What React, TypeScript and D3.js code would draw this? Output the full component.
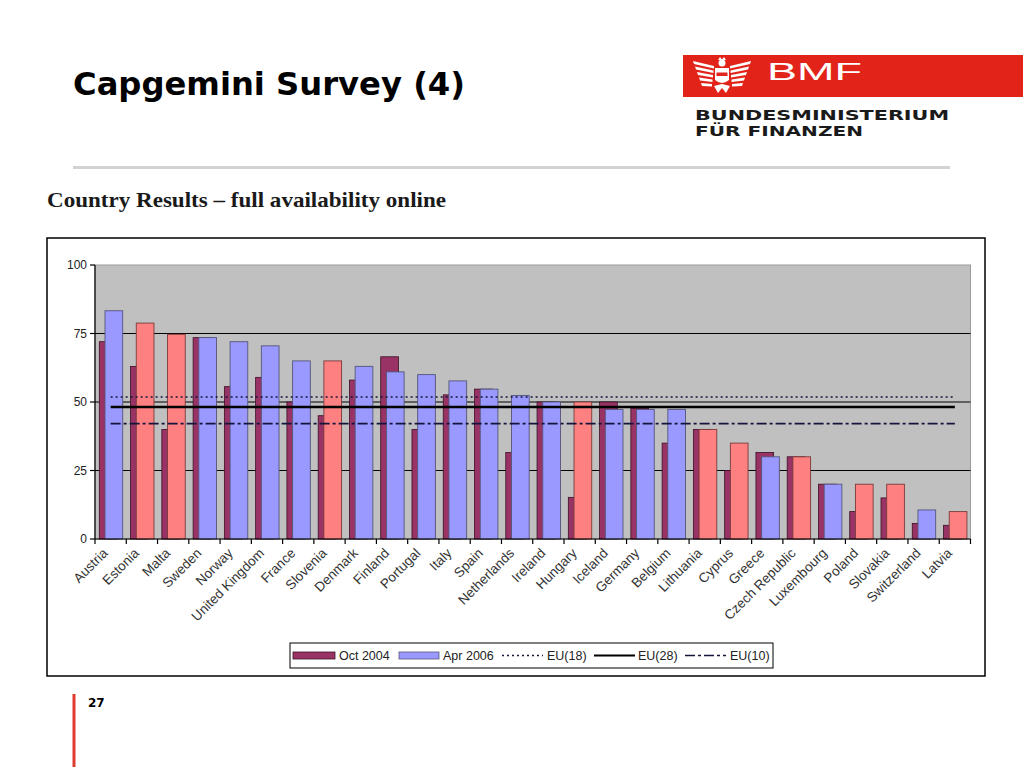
import { useMemo } from "react";
import { scaleBand, scaleLinear, line } from "d3";

const countries = [
  "Austria", "Estonia", "Malta", "Sweden", "Norway", "United Kingdom", "France",
  "Slovenia", "Denmark", "Finland", "Portugal", "Italy", "Spain", "Netherlands",
  "Ireland", "Hungary", "Iceland", "Germany", "Belgium", "Lithuania", "Cyprus",
  "Greece", "Czech Republic", "Luxembourg", "Poland", "Slovakia", "Switzerland", "Latvia",
];

const oct2004 = [
  72, 63, 40, 73.5, 55.6, 59, 50, 45, 58, 66.5, 40, 52.6, 54.7, 31.6,
  50, 15.2, 50, 47.7, 35, 40, 25, 31.6, 30, 20, 10, 15, 5.7, 5,
];

const apr2006 = [
  83.3, 78.8, 74.7, 73.5, 72, 70.5, 65, 65, 63, 61, 60, 57.7, 54.7, 52.4,
  50, 50, 47.3, 47.3, 47.3, 40, 35, 30, 30, 20, 20, 20, 10.6, 10,
];

// new member states drawn in red instead of blue
const newMembers = [
  "Estonia", "Malta", "Slovenia", "Hungary", "Lithuania", "Cyprus",
  "Czech Republic", "Poland", "Slovakia", "Latvia",
];

const benchmarkNames = ["EU(18)", "EU(28)", "EU(10)"];
const benchmarkValues = [51.8, 48.2, 42.1];

const yTicks = [0, 25, 50, 75, 100];

const COL_OCT = "#993366";
const COL_APR = "#9999ff";
const COL_NEW = "#ff8080";
const BENCH_STYLE: Record<string, { dash: string; width: number; color: string }> = {
  "EU(18)": { dash: "2,3", width: 1.6, color: "#14143c" },
  "EU(28)": { dash: "", width: 2.6, color: "#000" },
  "EU(10)": { dash: "10,3,3,3", width: 1.6, color: "#14143c" },
};

const PLOT = { left: 95, right: 970.5, top: 265, bottom: 539 };

function Eagle() {
  // rough white emblem on the red band
  const feathers = [0, 1, 2, 3, 4];
  return (
    <g fill="#fff">
      {feathers.map((i) => (
        <g key={i}>
          <path d={`M${714 - i * 0.5} ${66 + i * 4.5} L${693 + i * 2} ${61 + i * 5.5} L${694 + i * 2} ${64 + i * 5.5} L${714 - i * 0.5} ${68.5 + i * 4.5} Z`} />
          <path d={`M${730 + i * 0.5} ${66 + i * 4.5} L${751 - i * 2} ${61 + i * 5.5} L${750 - i * 2} ${64 + i * 5.5} L${730 + i * 0.5} ${68.5 + i * 4.5} Z`} />
        </g>
      ))}
      <path d="M718 60 L720 57 L722 59.5 L724 57 L726 60 Z" />
      <circle cx={722} cy={63} r={3.5} />
      <path d="M715 68 L729 68 L729 80 Q722 86 715 80 Z" />
      <rect x={716.5} y={72.5} width={11} height={3.5} fill="#e2231a" />
      <path d="M714 86 L718 93 L722 88 L726 93 L730 86 L722 84 Z" />
    </g>
  );
}

export default function App() {
  const x = useMemo(
    () => scaleBand<string>().domain(countries).range([PLOT.left, PLOT.right]).padding(0),
    []
  );
  const y = useMemo(
    () => scaleLinear().domain([0, 100]).range([PLOT.bottom, PLOT.top]),
    []
  );
  const bw = x.bandwidth();
  const barW = bw * 0.566;
  const cx = (c: string) => (x(c) ?? 0) + bw / 2;

  const benchLine = line<[number, number]>()
    .x((d) => d[0])
    .y((d) => y(d[1]));

  const font = "Arial, 'Liberation Sans', sans-serif";

  return (
    <svg
      width={1023}
      height={767}
      style={{ position: "absolute", left: 0, top: 0, background: "#fff" }}
    >
      {/* header */}
      <text x={73} y={95} fontFamily="'DejaVu Sans', Verdana, sans-serif" fontWeight="bold" fontSize={32} fill="#000" textLength={392} lengthAdjust="spacingAndGlyphs">
        Capgemini Survey (4)
      </text>
      <rect x={683} y={55} width={340} height={42} fill="#e2231a" />
      <Eagle />
      <text x={767} y={79.5} fontFamily="'Liberation Sans', Arial, sans-serif" fontSize={23} fill="#fff" textLength={95} lengthAdjust="spacingAndGlyphs">
        BMF
      </text>
      <text x={695} y={120} fontFamily="'DejaVu Sans', sans-serif" fontWeight="bold" fontSize={14.5} fill="#1a1a1a" textLength={254} lengthAdjust="spacingAndGlyphs">
        BUNDESMINISTERIUM
      </text>
      <text x={695} y={136} fontFamily="'DejaVu Sans', sans-serif" fontWeight="bold" fontSize={14.5} fill="#1a1a1a" textLength={168} lengthAdjust="spacingAndGlyphs">
        FÜR FINANZEN
      </text>
      <rect x={73} y={166} width={877} height={3} fill="#d2d2d2" />
      <text x={47} y={206.5} fontFamily="'Liberation Serif', 'Times New Roman', serif" fontWeight="bold" fontSize={21} fill="#1a1a1a" textLength={399} lengthAdjust="spacingAndGlyphs">
        Country Results – full availability online
      </text>

      {/* chart frame */}
      <rect x={47} y={238} width={938} height={438} fill="#fff" stroke="#000" strokeWidth={1.5} />
      <rect
        x={PLOT.left}
        y={PLOT.top}
        width={PLOT.right - PLOT.left}
        height={PLOT.bottom - PLOT.top}
        fill="#c0c0c0"
        stroke="#9a9a9a"
        strokeWidth={1}
      />
      {/* gridlines */}
      {yTicks.filter((t) => t > 0 && t < 100).map((t) => (
        <line key={t} x1={PLOT.left} x2={PLOT.right} y1={y(t)} y2={y(t)} stroke="#000" strokeWidth={1.2} />
      ))}

      {/* bars */}
      {countries.map((c, i) => {
        const x0 = x(c) ?? 0;
        const isNew = newMembers.includes(c);
        return (
          <g key={c}>
            <rect
              x={x0 + bw * 0.1375}
              y={y(oct2004[i])}
              width={barW}
              height={y(0) - y(oct2004[i])}
              fill={COL_OCT}
              stroke="#3a1025"
              strokeWidth={0.8}
            />
            <rect
              x={x0 + bw * 0.32}
              y={y(apr2006[i])}
              width={barW}
              height={y(0) - y(apr2006[i])}
              fill={isNew ? COL_NEW : COL_APR}
              stroke={isNew ? "#7a3a3a" : "#55557a"}
              strokeWidth={0.9}
            />
          </g>
        );
      })}

      {/* benchmark lines */}
      {benchmarkNames.map((n, i) => {
        const st = BENCH_STYLE[n];
        const d = benchLine([
          [cx(countries[0]), benchmarkValues[i]],
          [cx(countries[countries.length - 1]), benchmarkValues[i]],
        ]);
        return (
          <path key={n} d={d ?? ""} fill="none" stroke={st.color} strokeWidth={st.width} strokeDasharray={st.dash} />
        );
      })}

      {/* axes */}
      <line x1={PLOT.left} x2={PLOT.left} y1={PLOT.top} y2={PLOT.bottom} stroke="#000" strokeWidth={1.2} />
      <line x1={PLOT.left} x2={PLOT.right} y1={PLOT.bottom} y2={PLOT.bottom} stroke="#000" strokeWidth={1.2} />
      {yTicks.map((t) => (
        <g key={t}>
          <line x1={PLOT.left - 5} x2={PLOT.left} y1={y(t)} y2={y(t)} stroke="#000" strokeWidth={1.2} />
          <text x={87} y={y(t)} dy="0.35em" textAnchor="end" fontFamily={font} fontSize={12} fill="#222">
            {t}
          </text>
        </g>
      ))}
      {[...countries.map((c) => x(c) ?? 0), PLOT.right].map((tx, i) => (
        <line key={i} x1={tx} x2={tx} y1={PLOT.bottom} y2={PLOT.bottom + 5} stroke="#000" strokeWidth={1.2} />
      ))}
      {countries.map((c) => (
        <text
          key={c}
          transform={`translate(${cx(c) - 2}, 554) rotate(-45)`}
          textAnchor="end"
          fontFamily={font}
          fontSize={13.5}
          fill="#333"
        >
          {c}
        </text>
      ))}

      {/* legend */}
      <rect x={290} y={643} width={483} height={25} fill="#fff" stroke="#000" strokeWidth={1} />
      <g fontFamily={font} fontSize={12.5} fill="#222">
        <rect x={293} y={652} width={42} height={7} fill={COL_OCT} stroke="#3a1025" strokeWidth={0.8} />
        <text x={339} y={660}>Oct 2004</text>
        <rect x={399} y={652} width={40} height={7} fill={COL_APR} stroke="#55557a" strokeWidth={0.8} />
        <text x={443} y={660}>Apr 2006</text>
        {benchmarkNames.map((n, i) => {
          const st = BENCH_STYLE[n];
          const lx = [502, 594, 685][i];
          const tx = [547, 638, 730][i];
          return (
            <g key={n}>
              <line x1={lx} x2={lx + 41} y1={655.5} y2={655.5} stroke={st.color} strokeWidth={st.width === 2.6 ? 2.2 : 1.3} strokeDasharray={st.dash} />
              <text x={tx} y={660}>{n}</text>
            </g>
          );
        })}
      </g>

      {/* footer */}
      <rect x={72.5} y={694} width={3} height={73} fill="#e03c31" />
      <text x={88} y={707} fontFamily="'DejaVu Sans', Verdana, sans-serif" fontWeight="bold" fontSize={12} fill="#000">
        27
      </text>
    </svg>
  );
}
